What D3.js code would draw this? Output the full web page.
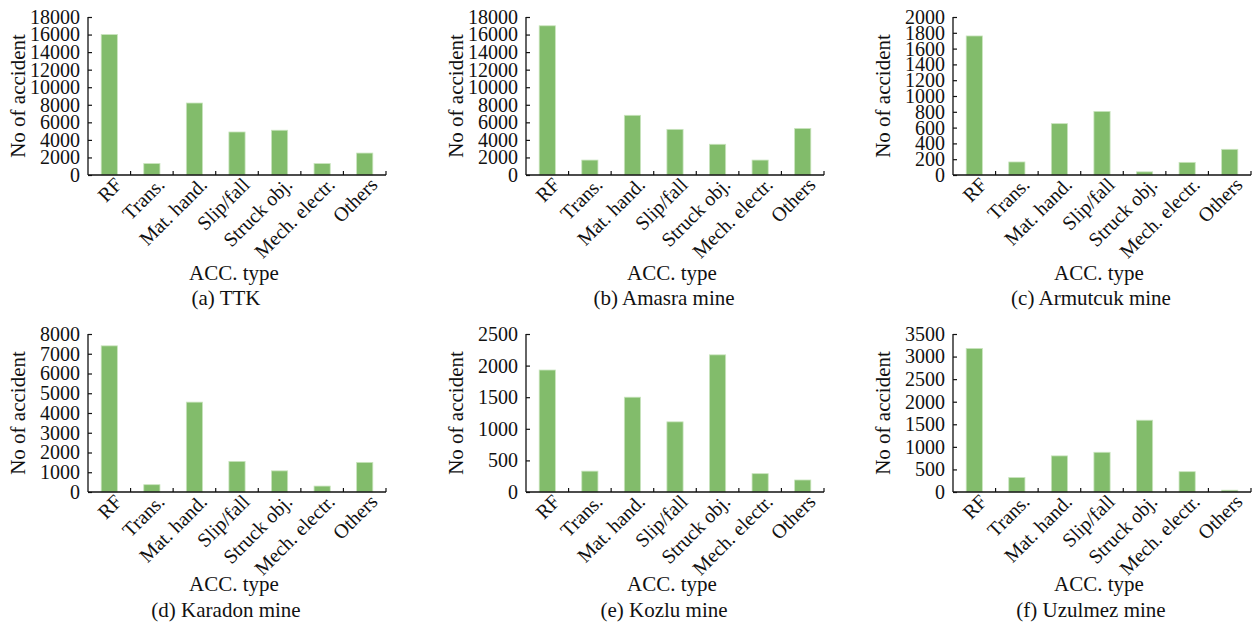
<!DOCTYPE html>
<html>
<head>
<meta charset="utf-8">
<script src="https://cdn.jsdelivr.net/npm/d3@7"></script>
<style>
  html, body { margin: 0; padding: 0; background: #fff; }
  svg text { font-family: "Liberation Serif", "Times New Roman", serif; fill: #111; }
</style>
</head>
<body>
<svg id="chart" width="1252" height="629"></svg>
<script>
const categories = ["RF", "Trans.", "Mat. hand.", "Slip/fall", "Struck obj.", "Mech. electr.", "Others"];

const panelTitles = ["(a) TTK", "(b) Amasra mine", "(c) Armutcuk mine", "(d) Karadon mine", "(e) Kozlu mine", "(f) Uzulmez mine"];

const ttkValues      = [16000, 1300, 8200, 4900, 5100, 1300, 2500];
const amasraValues   = [17000, 1700, 6800, 5200, 3500, 1700, 5300];
const armutcukValues = [1760, 165, 650, 805, 40, 160, 325];
const karadonValues  = [7400, 370, 4550, 1550, 1070, 300, 1500];
const kozluValues    = [1930, 330, 1500, 1110, 2170, 290, 190];
const uzulmezValues  = [3180, 320, 800, 880, 1590, 450, 40];

const ttkTicks      = [0, 2000, 4000, 6000, 8000, 10000, 12000, 14000, 16000, 18000];
const amasraTicks   = [0, 2000, 4000, 6000, 8000, 10000, 12000, 14000, 16000, 18000];
const armutcukTicks = [0, 200, 400, 600, 800, 1000, 1200, 1400, 1600, 1800, 2000];
const karadonTicks  = [0, 1000, 2000, 3000, 4000, 5000, 6000, 7000, 8000];
const kozluTicks    = [0, 500, 1000, 1500, 2000, 2500];
const uzulmezTicks  = [0, 500, 1000, 1500, 2000, 2500, 3000, 3500];

const xAxisTitle = "ACC. type";
const yAxisTitle = "No of accident";

const panels = [
  { values: ttkValues,      ticks: ttkTicks,      x0: 88,  top: 17,  bottom: 175, accDy: 105, capDy: 130 },
  { values: amasraValues,   ticks: amasraTicks,   x0: 526, top: 17,  bottom: 175, accDy: 105, capDy: 130 },
  { values: armutcukValues, ticks: armutcukTicks, x0: 953, top: 17,  bottom: 175, accDy: 105, capDy: 130 },
  { values: karadonValues,  ticks: karadonTicks,  x0: 88,  top: 334, bottom: 492, accDy: 99,  capDy: 125 },
  { values: kozluValues,    ticks: kozluTicks,    x0: 526, top: 334, bottom: 492, accDy: 99,  capDy: 125 },
  { values: uzulmezValues,  ticks: uzulmezTicks,  x0: 953, top: 334, bottom: 492, accDy: 99,  capDy: 125 }
];

const svg = d3.select("#chart");
const axisWidth = 298;
const tickFont = 20;
const labelFont = 20;
const titleFont = 21;

panels.forEach((p, i) => {
  const g = svg.append("g");
  const x = d3.scaleBand().domain(categories).range([p.x0, p.x0 + axisWidth]).paddingInner(0.62).paddingOuter(0.31);
  const xb = d3.scaleBand().domain(categories).range([p.x0, p.x0 + axisWidth]);
  const y = d3.scaleLinear().domain([p.ticks[0], p.ticks[p.ticks.length - 1]]).range([p.bottom, p.top]);

  // bars
  g.selectAll("rect.bar").data(p.values).join("rect")
    .attr("class", "bar")
    .attr("x", (d, j) => x(categories[j]))
    .attr("width", x.bandwidth())
    .attr("y", d => y(d))
    .attr("height", d => y(0) - y(d))
    .attr("fill", "#82bc6b")
    .attr("stroke", "#c9e4bd")
    .attr("stroke-width", 0.8);

  // y axis
  const yAxis = d3.axisLeft(y).tickValues(p.ticks).tickSize(-4).tickPadding(8).tickFormat(d3.format("d"));
  const ya = g.append("g").attr("transform", `translate(${p.x0},0)`).call(yAxis);
  ya.select(".domain").attr("d", `M0,${p.top}V${p.bottom}`).attr("stroke", "#111").attr("stroke-width", 1.3);
  ya.selectAll(".tick line").attr("stroke", "#111").attr("stroke-width", 1.2);
  ya.selectAll(".tick text").attr("font-size", tickFont).attr("font-family", "Liberation Serif").attr("fill", "#111");

  // x axis with ticks at band boundaries
  const xa = g.append("g").attr("transform", `translate(0,${p.bottom})`);
  xa.append("line").attr("x1", p.x0).attr("x2", p.x0 + axisWidth).attr("y1", 0).attr("y2", 0)
    .attr("stroke", "#111").attr("stroke-width", 1.3);
  const bounds = categories.slice(1).map(c => xb(c)).concat([p.x0 + axisWidth]);
  xa.selectAll("line.tk").data(bounds).join("line").attr("class", "tk")
    .attr("x1", d => d).attr("x2", d => d).attr("y1", 0).attr("y2", -4)
    .attr("stroke", "#111").attr("stroke-width", 1.2);
  xa.selectAll("text.lbl").data(categories).join("text").attr("class", "lbl")
    .attr("transform", c => `translate(${xb(c) + xb.bandwidth() / 2 + 9},${6}) rotate(-45)`)
    .attr("text-anchor", "end")
    .attr("dy", "0.35em")
    .attr("font-size", labelFont)
    .text(c => c);

  // y title
  g.append("text")
    .attr("transform", `translate(${p.x0 - 63},${(p.top + p.bottom) / 2}) rotate(-90)`)
    .attr("text-anchor", "middle")
    .attr("font-size", titleFont)
    .text(yAxisTitle);

  // x title
  g.append("text")
    .attr("x", p.x0 + 146).attr("y", p.bottom + p.accDy)
    .attr("text-anchor", "middle")
    .attr("font-size", titleFont)
    .text(xAxisTitle);

  // panel caption
  g.append("text")
    .attr("x", p.x0 + 138).attr("y", p.bottom + p.capDy)
    .attr("text-anchor", "middle")
    .attr("font-size", titleFont)
    .text(panelTitles[i]);
});
</script>
</body>
</html>
